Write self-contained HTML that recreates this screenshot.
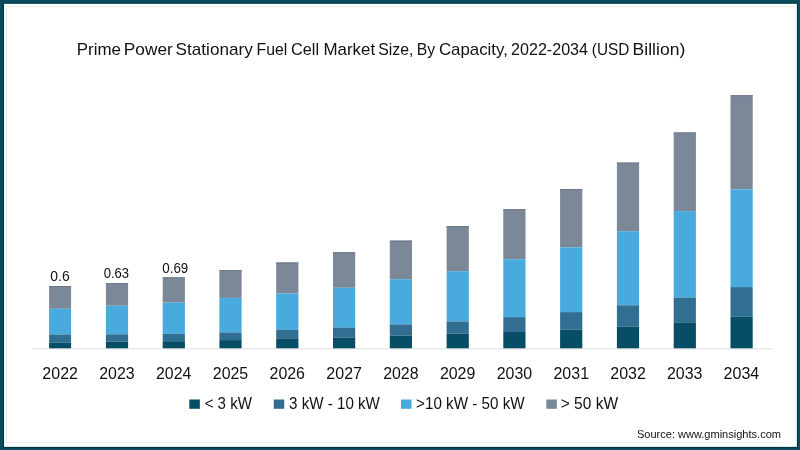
<!DOCTYPE html>
<html><head><meta charset="utf-8"><style>
html,body{margin:0;padding:0;background:#fff;}
svg{display:block;will-change:transform;}
text{font-family:"Liberation Sans",Arial,sans-serif;fill:#111111;}
</style></head><body>
<svg width="800" height="450" viewBox="0 0 800 450">
<rect x="0" y="0" width="800" height="450" fill="#0d4b5f"/>
<rect x="2.8" y="2.6" width="795.1" height="445.3" fill="#04323f"/>
<rect x="4" y="3.8" width="792.9" height="443.1" fill="#f2fcfd"/>
<rect x="5.5" y="5.2" width="790" height="440.5" fill="#ffffff"/>
<rect x="793.5" y="5.2" width="2" height="440.5" fill="#f5fcfd"/>
<rect x="6" y="6" width="789" height="1" fill="#eaeeee"/>
<rect x="6" y="6" width="1" height="436" fill="#eaeeee"/>
<rect x="6" y="442" width="772" height="1" fill="#f1e9e9"/>
<text x="76.75" y="54.90" font-size="17" textLength="44.21" lengthAdjust="spacingAndGlyphs">Prime</text>
<text x="123.87" y="54.90" font-size="17" textLength="48.88" lengthAdjust="spacingAndGlyphs">Power</text>
<text x="175.64" y="54.90" font-size="17" textLength="77.15" lengthAdjust="spacingAndGlyphs">Stationary</text>
<text x="256.48" y="54.90" font-size="17" textLength="30.80" lengthAdjust="spacingAndGlyphs">Fuel</text>
<text x="291.09" y="54.90" font-size="17" textLength="28.03" lengthAdjust="spacingAndGlyphs">Cell</text>
<text x="323.40" y="54.90" font-size="17" textLength="51.71" lengthAdjust="spacingAndGlyphs">Market</text>
<text x="378.21" y="54.90" font-size="17" textLength="35.17" lengthAdjust="spacingAndGlyphs">Size,</text>
<text x="416.73" y="54.90" font-size="17" textLength="18.48" lengthAdjust="spacingAndGlyphs">By</text>
<text x="438.91" y="54.90" font-size="17" textLength="68.91" lengthAdjust="spacingAndGlyphs">Capacity,</text>
<text x="511.10" y="54.90" font-size="17" textLength="76.92" lengthAdjust="spacingAndGlyphs">2022-2034</text>
<text x="591.83" y="54.90" font-size="17" textLength="37.45" lengthAdjust="spacingAndGlyphs">(USD</text>
<text x="632.59" y="54.90" font-size="17" textLength="52.73" lengthAdjust="spacingAndGlyphs">Billion)</text>
<rect x="32" y="348.3" width="741" height="1" fill="#e2dede"/>
<rect x="49.1" y="286.0" width="22.0" height="22.8" fill="#7a8898"/>
<rect x="49.1" y="286.0" width="22.0" height="1" fill="#6d798a"/>
<rect x="49.1" y="308.8" width="22.0" height="25.7" fill="#48aadd"/>
<rect x="49.1" y="334.5" width="22.0" height="7.9" fill="#306f91"/>
<rect x="49.1" y="342.4" width="22.0" height="5.9" fill="#074d66"/>
<rect x="105.9" y="283.2" width="22.2" height="22.5" fill="#7a8898"/>
<rect x="105.9" y="283.2" width="22.2" height="1" fill="#6d798a"/>
<rect x="105.9" y="305.7" width="22.2" height="28.6" fill="#48aadd"/>
<rect x="105.9" y="334.3" width="22.2" height="7.4" fill="#306f91"/>
<rect x="105.9" y="341.7" width="22.2" height="6.6" fill="#074d66"/>
<rect x="162.7" y="277.3" width="22.2" height="25.3" fill="#7a8898"/>
<rect x="162.7" y="277.3" width="22.2" height="1" fill="#6d798a"/>
<rect x="162.7" y="302.6" width="22.2" height="31.2" fill="#48aadd"/>
<rect x="162.7" y="333.8" width="22.2" height="7.4" fill="#306f91"/>
<rect x="162.7" y="341.2" width="22.2" height="7.1" fill="#074d66"/>
<rect x="219.4" y="270.1" width="22.2" height="27.8" fill="#7a8898"/>
<rect x="219.4" y="270.1" width="22.2" height="1" fill="#6d798a"/>
<rect x="219.4" y="297.9" width="22.2" height="34.6" fill="#48aadd"/>
<rect x="219.4" y="332.5" width="22.2" height="7.6" fill="#306f91"/>
<rect x="219.4" y="340.1" width="22.2" height="8.2" fill="#074d66"/>
<rect x="276.2" y="262.5" width="22.2" height="31.1" fill="#7a8898"/>
<rect x="276.2" y="262.5" width="22.2" height="1" fill="#6d798a"/>
<rect x="276.2" y="293.6" width="22.2" height="36.3" fill="#48aadd"/>
<rect x="276.2" y="329.9" width="22.2" height="8.4" fill="#306f91"/>
<rect x="276.2" y="338.3" width="22.2" height="10.0" fill="#074d66"/>
<rect x="333.0" y="252.2" width="22.2" height="35.6" fill="#7a8898"/>
<rect x="333.0" y="252.2" width="22.2" height="1" fill="#6d798a"/>
<rect x="333.0" y="287.8" width="22.2" height="40.0" fill="#48aadd"/>
<rect x="333.0" y="327.8" width="22.2" height="9.7" fill="#306f91"/>
<rect x="333.0" y="337.5" width="22.2" height="10.8" fill="#074d66"/>
<rect x="389.8" y="240.6" width="22.2" height="38.6" fill="#7a8898"/>
<rect x="389.8" y="240.6" width="22.2" height="1" fill="#6d798a"/>
<rect x="389.8" y="279.2" width="22.2" height="45.2" fill="#48aadd"/>
<rect x="389.8" y="324.4" width="22.2" height="11.2" fill="#306f91"/>
<rect x="389.8" y="335.6" width="22.2" height="12.7" fill="#074d66"/>
<rect x="446.6" y="226.1" width="22.2" height="45.1" fill="#7a8898"/>
<rect x="446.6" y="226.1" width="22.2" height="1" fill="#6d798a"/>
<rect x="446.6" y="271.2" width="22.2" height="50.3" fill="#48aadd"/>
<rect x="446.6" y="321.5" width="22.2" height="12.1" fill="#306f91"/>
<rect x="446.6" y="333.6" width="22.2" height="14.7" fill="#074d66"/>
<rect x="503.3" y="209.2" width="22.2" height="50.0" fill="#7a8898"/>
<rect x="503.3" y="209.2" width="22.2" height="1" fill="#6d798a"/>
<rect x="503.3" y="259.2" width="22.2" height="57.9" fill="#48aadd"/>
<rect x="503.3" y="317.1" width="22.2" height="14.9" fill="#306f91"/>
<rect x="503.3" y="332.0" width="22.2" height="16.3" fill="#074d66"/>
<rect x="560.1" y="189.0" width="22.2" height="58.3" fill="#7a8898"/>
<rect x="560.1" y="189.0" width="22.2" height="1" fill="#6d798a"/>
<rect x="560.1" y="247.3" width="22.2" height="64.8" fill="#48aadd"/>
<rect x="560.1" y="312.1" width="22.2" height="17.5" fill="#306f91"/>
<rect x="560.1" y="329.6" width="22.2" height="18.7" fill="#074d66"/>
<rect x="616.9" y="162.6" width="22.2" height="68.6" fill="#7a8898"/>
<rect x="616.9" y="162.6" width="22.2" height="1" fill="#6d798a"/>
<rect x="616.9" y="231.2" width="22.2" height="74.1" fill="#48aadd"/>
<rect x="616.9" y="305.3" width="22.2" height="21.1" fill="#306f91"/>
<rect x="616.9" y="326.4" width="22.2" height="21.9" fill="#074d66"/>
<rect x="673.7" y="132.5" width="22.2" height="78.6" fill="#7a8898"/>
<rect x="673.7" y="132.5" width="22.2" height="1" fill="#6d798a"/>
<rect x="673.7" y="211.1" width="22.2" height="86.5" fill="#48aadd"/>
<rect x="673.7" y="297.6" width="22.2" height="25.3" fill="#306f91"/>
<rect x="673.7" y="322.9" width="22.2" height="25.4" fill="#074d66"/>
<rect x="730.5" y="95.2" width="22.2" height="94.1" fill="#7a8898"/>
<rect x="730.5" y="95.2" width="22.2" height="1" fill="#6d798a"/>
<rect x="730.5" y="189.3" width="22.2" height="97.8" fill="#48aadd"/>
<rect x="730.5" y="287.1" width="22.2" height="29.7" fill="#306f91"/>
<rect x="730.5" y="316.8" width="22.2" height="31.5" fill="#074d66"/>
<text x="42.35" y="379.05" font-size="16.9" textLength="35.57" lengthAdjust="spacingAndGlyphs">2022</text>
<text x="99.23" y="379.05" font-size="16.9" textLength="35.41" lengthAdjust="spacingAndGlyphs">2023</text>
<text x="156.02" y="379.05" font-size="16.9" textLength="35.24" lengthAdjust="spacingAndGlyphs">2024</text>
<text x="212.79" y="379.05" font-size="16.9" textLength="35.41" lengthAdjust="spacingAndGlyphs">2025</text>
<text x="269.57" y="379.05" font-size="16.9" textLength="35.41" lengthAdjust="spacingAndGlyphs">2026</text>
<text x="326.35" y="379.05" font-size="16.9" textLength="35.57" lengthAdjust="spacingAndGlyphs">2027</text>
<text x="383.13" y="379.05" font-size="16.9" textLength="35.41" lengthAdjust="spacingAndGlyphs">2028</text>
<text x="439.91" y="379.05" font-size="16.9" textLength="35.41" lengthAdjust="spacingAndGlyphs">2029</text>
<text x="496.69" y="379.05" font-size="16.9" textLength="35.41" lengthAdjust="spacingAndGlyphs">2030</text>
<text x="553.47" y="379.05" font-size="16.9" textLength="35.57" lengthAdjust="spacingAndGlyphs">2031</text>
<text x="610.25" y="379.05" font-size="16.9" textLength="35.57" lengthAdjust="spacingAndGlyphs">2032</text>
<text x="667.03" y="379.05" font-size="16.9" textLength="35.41" lengthAdjust="spacingAndGlyphs">2033</text>
<text x="723.56" y="379.05" font-size="16.9" textLength="35.76" lengthAdjust="spacingAndGlyphs">2034</text>
<text x="50.34" y="280.90" font-size="14.2" textLength="19.31" lengthAdjust="spacingAndGlyphs">0.6</text>
<text x="103.68" y="277.60" font-size="14.2" textLength="25.32" lengthAdjust="spacingAndGlyphs">0.63</text>
<text x="162.27" y="272.90" font-size="14.2" textLength="25.95" lengthAdjust="spacingAndGlyphs">0.69</text>
<rect x="189.3" y="399.5" width="10.5" height="9.3" fill="#074d66"/>
<text x="204.65" y="408.70" font-size="15.7" textLength="47.30" lengthAdjust="spacingAndGlyphs">&lt; 3 kW</text>
<rect x="273.75" y="399.5" width="10.5" height="9.3" fill="#306f91"/>
<text x="289.04" y="408.70" font-size="15.7" textLength="90.87" lengthAdjust="spacingAndGlyphs">3 kW - 10 kW</text>
<rect x="401.0" y="399.5" width="10.5" height="9.3" fill="#48aadd"/>
<text x="416.09" y="408.70" font-size="15.7" textLength="108.52" lengthAdjust="spacingAndGlyphs">&gt;10 kW - 50 kW</text>
<rect x="546.3" y="399.5" width="10.5" height="9.3" fill="#7a8898"/>
<text x="560.72" y="408.70" font-size="15.7" textLength="57.37" lengthAdjust="spacingAndGlyphs">&gt; 50 kW</text>
<text x="636.95" y="437.90" font-size="11.8" textLength="144.03" lengthAdjust="spacingAndGlyphs" fill="#222222">Source: www.gminsights.com</text>
</svg>
</body></html>
